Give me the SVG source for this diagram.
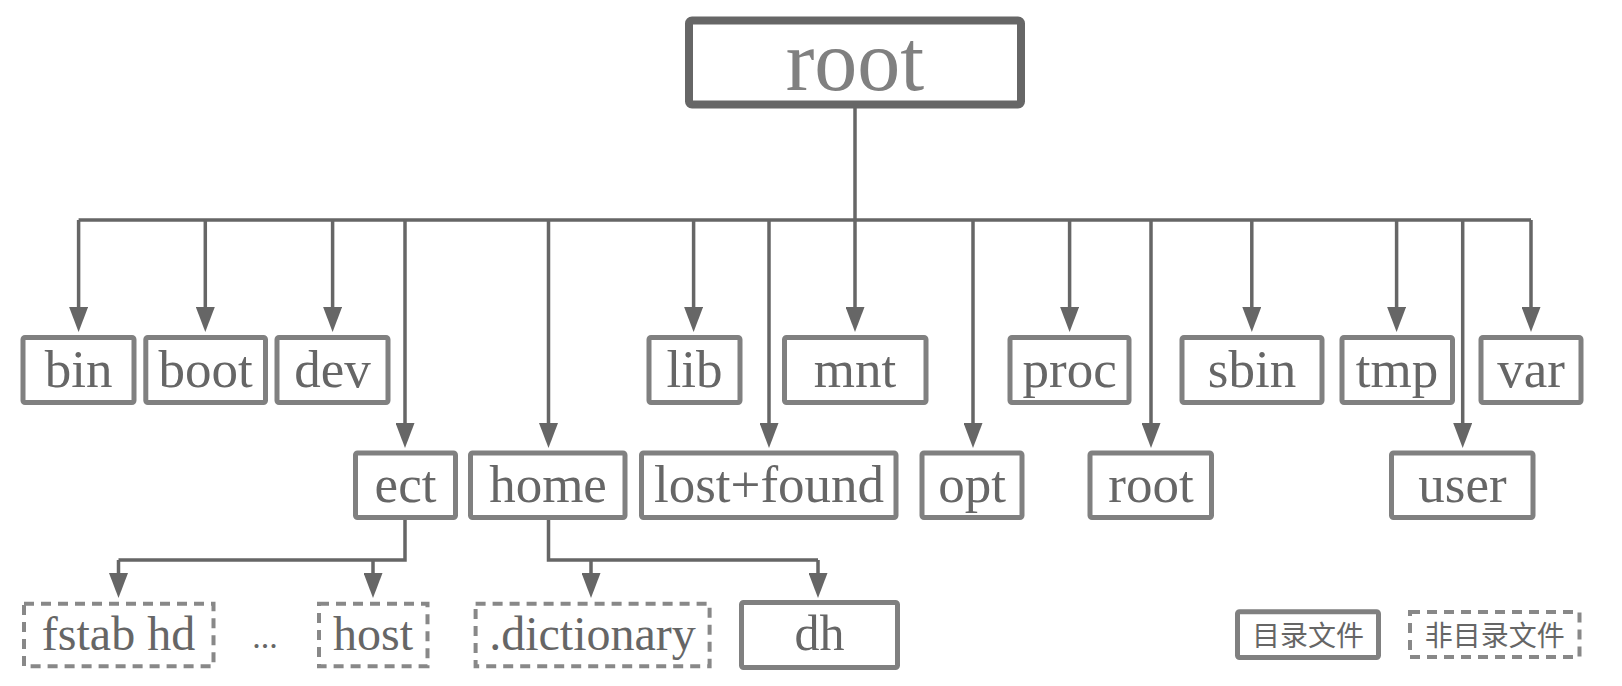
<svg xmlns="http://www.w3.org/2000/svg" width="1622" height="686" viewBox="0 0 1622 686">
<style>
  .dir { fill: #ffffff; stroke: #808080; stroke-width: 5; }
  .file { fill: #ffffff; stroke: #888888; stroke-width: 4; stroke-dasharray: 10 7; }
  .lbl { font-family: "Liberation Serif", "Times New Roman", serif; fill: #666666; text-anchor: middle; font-size: 53px; }
  .small { font-size: 48px; }
  .leg { font-family: "Noto Sans CJK SC", sans-serif; fill: #666666; text-anchor: middle; font-size: 28px; }
  .conn { fill: none; stroke: #666666; stroke-width: 3.5; }
</style>
<defs>
  <marker id="arr" markerUnits="userSpaceOnUse" markerWidth="25" markerHeight="19" refX="2" refY="9.5" orient="auto">
    <path d="M0,0 L25,9.5 L0,19 Z" fill="#666666"/>
  </marker>
</defs>
<rect width="1622" height="686" fill="#ffffff"/>

<g id="connectors">
  <path class="conn" d="M855 108 V220"/>
  <path class="conn" d="M78.6 220 H1531"/>
  <path class="conn" marker-end="url(#arr)" d="M78.6 220 V309"/>
  <path class="conn" marker-end="url(#arr)" d="M205.3 220 V309"/>
  <path class="conn" marker-end="url(#arr)" d="M332.6 220 V309"/>
  <path class="conn" marker-end="url(#arr)" d="M693.6 220 V309"/>
  <path class="conn" marker-end="url(#arr)" d="M855 220 V309"/>
  <path class="conn" marker-end="url(#arr)" d="M1069.6 220 V309"/>
  <path class="conn" marker-end="url(#arr)" d="M1251.8 220 V309"/>
  <path class="conn" marker-end="url(#arr)" d="M1396.6 220 V309"/>
  <path class="conn" marker-end="url(#arr)" d="M1531 220 V309"/>
  <path class="conn" marker-end="url(#arr)" d="M405 220 V425"/>
  <path class="conn" marker-end="url(#arr)" d="M548.5 220 V425"/>
  <path class="conn" marker-end="url(#arr)" d="M769 220 V425"/>
  <path class="conn" marker-end="url(#arr)" d="M973 220 V425"/>
  <path class="conn" marker-end="url(#arr)" d="M1151 220 V425"/>
  <path class="conn" marker-end="url(#arr)" d="M1462.7 220 V425"/>
  <path class="conn" d="M405 520 V560 H118.5"/>
  <path class="conn" marker-end="url(#arr)" d="M118.5 560 V575"/>
  <path class="conn" marker-end="url(#arr)" d="M373 560 V575"/>
  <path class="conn" d="M548.5 520 V560 H818"/>
  <path class="conn" marker-end="url(#arr)" d="M591 560 V575"/>
  <path class="conn" marker-end="url(#arr)" d="M818 560 V575"/>
</g>

<g id="node-root">
  <rect x="689" y="20.5" width="332" height="84" rx="3" fill="#ffffff" stroke="#666666" stroke-width="8"/>
  <text x="855" y="90" font-family="Liberation Serif, Times New Roman, serif" font-size="86" fill="#808080" text-anchor="middle">root</text>
</g>

<g id="node-bin"><rect class="dir" x="23" y="337.5" width="111" height="65" rx="2"/><text class="lbl" x="78.6" y="387">bin</text></g>
<g id="node-boot"><rect class="dir" x="145.8" y="337.5" width="119.7" height="65" rx="2"/><text class="lbl" x="205.6" y="387">boot</text></g>
<g id="node-dev"><rect class="dir" x="277" y="337.5" width="111" height="65" rx="2"/><text class="lbl" x="332.6" y="387">dev</text></g>
<g id="node-lib"><rect class="dir" x="649" y="337.5" width="91" height="65" rx="2"/><text class="lbl" x="694.5" y="387">lib</text></g>
<g id="node-mnt"><rect class="dir" x="784.5" y="337.5" width="141.5" height="65" rx="2"/><text class="lbl" x="855" y="387">mnt</text></g>
<g id="node-proc"><rect class="dir" x="1010" y="337.5" width="119" height="65" rx="2"/><text class="lbl" x="1069.6" y="387">proc</text></g>
<g id="node-sbin"><rect class="dir" x="1182" y="337.5" width="140" height="65" rx="2"/><text class="lbl" x="1252" y="387">sbin</text></g>
<g id="node-tmp"><rect class="dir" x="1342" y="337.5" width="110.5" height="65" rx="2"/><text class="lbl" x="1397" y="387">tmp</text></g>
<g id="node-var"><rect class="dir" x="1481" y="337.5" width="100" height="65" rx="2"/><text class="lbl" x="1531" y="387">var</text></g>

<g id="node-ect"><rect class="dir" x="355.5" y="453" width="100" height="64.5" rx="2"/><text class="lbl" x="405.5" y="502">ect</text></g>
<g id="node-home"><rect class="dir" x="470.5" y="453" width="154.5" height="64.5" rx="2"/><text class="lbl" x="548" y="502">home</text></g>
<g id="node-lostfound"><rect class="dir" x="641.5" y="453" width="254.5" height="64.5" rx="2"/><text class="lbl" x="769" y="502">lost+found</text></g>
<g id="node-opt"><rect class="dir" x="922" y="453" width="100" height="64.5" rx="2"/><text class="lbl" x="972" y="502">opt</text></g>
<g id="node-root2"><rect class="dir" x="1090" y="453" width="121.5" height="64.5" rx="2"/><text class="lbl" x="1151" y="502">root</text></g>
<g id="node-user"><rect class="dir" x="1391.5" y="453" width="141.5" height="64.5" rx="2"/><text class="lbl" x="1462.5" y="502">user</text></g>

<g id="node-fstab"><rect class="file" x="24" y="603.7" width="189.5" height="62.6"/><text class="lbl small" x="118.5" y="650">fstab hd</text></g>
<g id="node-ellipsis"><text class="lbl" font-size="34" x="265" y="648" style="font-size:34px">...</text></g>
<g id="node-host"><rect class="file" x="319" y="603.7" width="108.5" height="62.6"/><text class="lbl small" x="373" y="650">host</text></g>
<g id="node-dictionary"><rect class="file" x="475.6" y="603.7" width="234" height="62.6"/><text class="lbl small" x="592.5" y="650">.dictionary</text></g>
<g id="node-dh"><rect class="dir" x="741.5" y="602.5" width="156" height="65" rx="2"/><text class="lbl" x="819.5" y="650" style="font-size:50px">dh</text></g>

<g id="legend-dir"><rect class="dir" x="1237.5" y="611.8" width="141" height="45.7" rx="2"/><text class="leg" x="1308" y="646">目录文件</text></g>
<g id="legend-file"><rect class="file" x="1410" y="612" width="169.5" height="45"/><text class="leg" x="1494.7" y="646">非目录文件</text></g>
</svg>
